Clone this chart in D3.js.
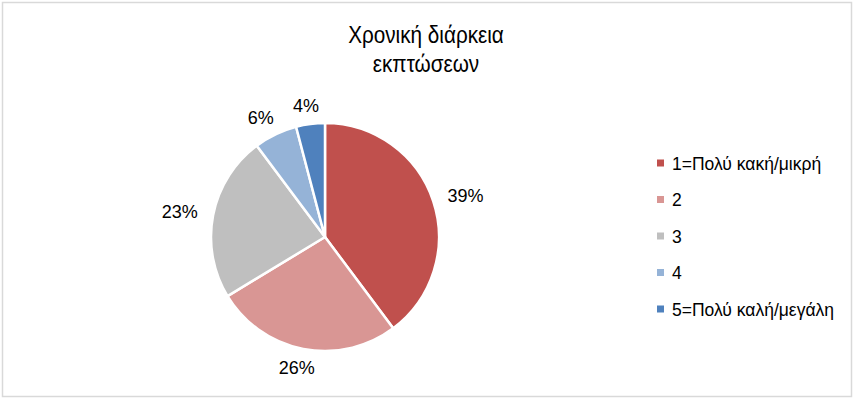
<!DOCTYPE html>
<html>
<head>
<meta charset="utf-8">
<script src="https://cdn.jsdelivr.net/npm/d3@7"></script>
<style>
  body { margin: 0; background: #fff; }
  text { font-family: "Liberation Sans", Arial, sans-serif; fill: #000; }
</style>
</head>
<body>
<div id="chart-div"></div>
<script>
var categories = ["1=Πολύ κακή/μικρή", "2", "3", "4", "5=Πολύ καλή/μεγάλη"];
var values = [39, 26, 23, 6, 4];
var colors = ["#C0504D", "#D99694", "#BFBFBF", "#95B3D7", "#4F81BD"];
var titleLines = ["Χρονική διάρκεια", "εκπτώσεων"];

var props = {
  width: 854,
  height: 399,
  cx: 325,
  cy: 237,
  radius: 114,
  labelRx: 148,
  labelRy: 133,
  legendX: 657,
  legendY: 163,
  legendStep: 36.5
}

var svg = d3.select("#chart-div").append("svg").attr("width", props.width).attr("height", props.height);

svg.append("rect")
  .attr("x", 2.5).attr("y", 2.5)
  .attr("width", props.width - 5).attr("height", props.height - 5)
  .style("fill", "#fff").style("stroke", "#D9D9D9").style("stroke-width", "1.5");

// title looks horizontally squeezed in the original, so scale x a bit
var titleG = svg.append("g").attr("transform", "translate(426,0) scale(0.9,1)");
titleG.selectAll(".title")
  .data(titleLines)
  .enter()
  .append("text")
  .attr("class", "title")
  .attr("x", 0)
  .attr("y", function(d, i){ return 43 + i * 29; })
  .attr("text-anchor", "middle")
  .style("font-size", "23px")
  .text(function(d){ return d; });

var data = categories.map(function(c, i){ return {name: c, value: values[i], color: colors[i]}; });

var pieGenerator = d3.pie().value(function(d){ return d.value; }).sort(null);
var arcData = pieGenerator(data);
var arcGenerator = d3.arc().innerRadius(0).outerRadius(props.radius);

var g = svg.append("g").attr("transform", "translate(" + props.cx + "," + props.cy + ")");

g.selectAll(".slice")
  .data(arcData)
  .enter()
  .append("path")
  .attr("class", "slice")
  .attr("d", arcGenerator)
  .style("fill", function(d){ return d.data.color; })
  .style("stroke", "#fff")
  .style("stroke-width", "2.5")
  .style("stroke-linejoin", "round");

g.selectAll(".pct")
  .data(arcData)
  .enter()
  .append("text")
  .attr("class", "pct")
  .attr("transform", function(d){
    var a = (d.startAngle + d.endAngle) / 2;
    var x = props.labelRx * Math.sin(a);
    var y = -props.labelRy * Math.cos(a);
    return "translate(" + x + "," + (y + 6.5) + ")";
  })
  .attr("text-anchor", "middle")
  .style("font-size", "18px")
  .text(function(d){ return d.data.value + "%"; });

var legend = svg.selectAll(".legend")
  .data(data)
  .enter()
  .append("g")
  .attr("class", "legend")
  .attr("transform", function(d, i){ return "translate(" + props.legendX + "," + (props.legendY + i * props.legendStep) + ")"; });

legend.append("rect")
  .attr("x", 0).attr("y", -3.5)
  .attr("width", 7).attr("height", 7)
  .style("fill", function(d){ return d.color; });

legend.append("text")
  .attr("x", 15)
  .attr("y", 6.5)
  .style("font-size", "17.5px")
  .text(function(d){ return d.name; });
</script>
</body>
</html>
